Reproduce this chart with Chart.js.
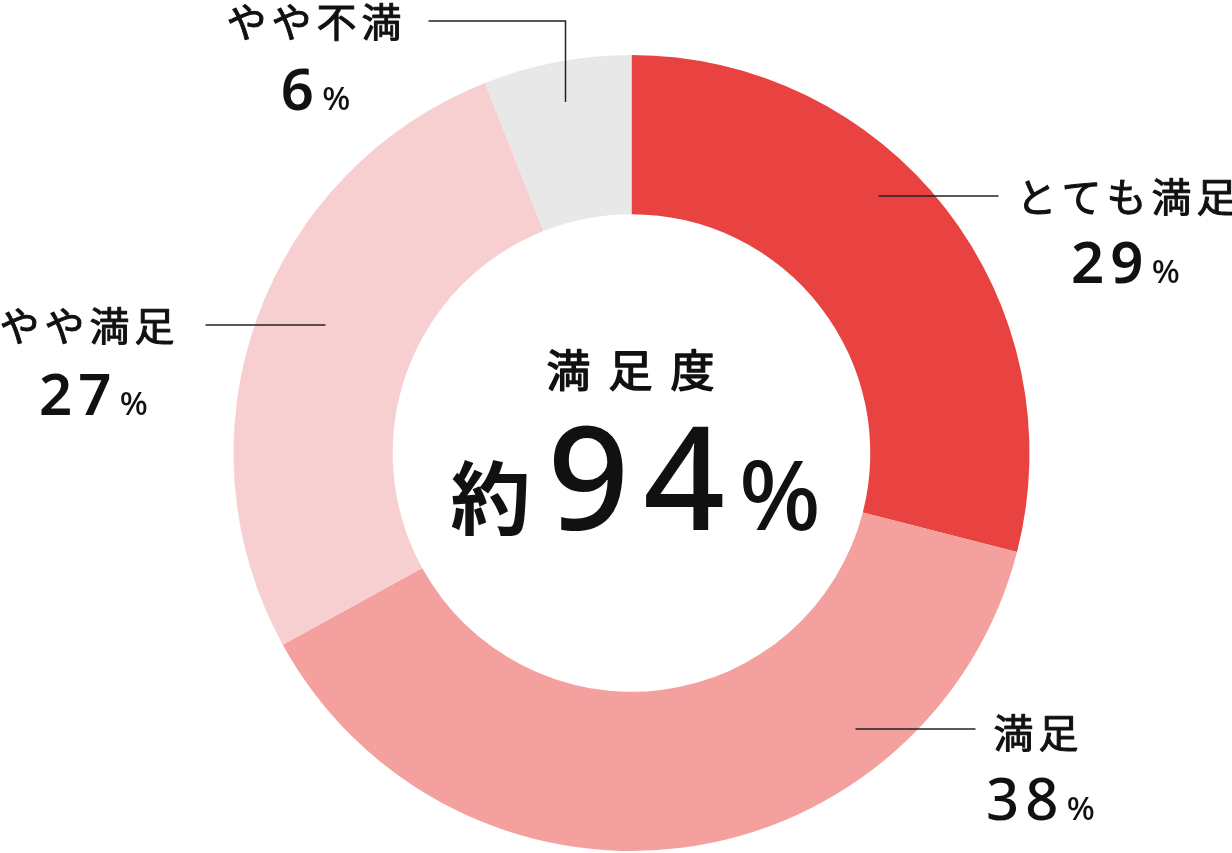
<!DOCTYPE html>
<html lang="ja">
<head>
<meta charset="utf-8">
<script src="https://cdn.jsdelivr.net/npm/chart.js@4"></script>
<style>
  html, body { margin: 0; padding: 0; background: #fff; }
  #wrap { width: 1232px; height: 853px; position: relative; }
</style>
</head>
<body>
<div id="wrap"><canvas id="c"></canvas></div>
<script>
// ---- data ----
const categories = ['とても満足', '満足', 'やや満足', 'やや不満'];
const values = [29, 38, 27, 6];
const centerTitle = '満足度';
const centerPrefix = '約';
const centerValue = '94';
const unit = '%';

// ---- styles ----
const segmentColors = ['#E84341', '#F3A09E', '#F8CFD0', '#E8E8E8'];
const valueWeights = [600, 500, 600, 600];
const JP = '"Noto Sans CJK JP", "Noto Sans", sans-serif';
const NUM = '"Noto Sans", "DejaVu Sans", sans-serif';

// label layout, offsets relative to the doughnut centre (px)
const labelLayout = [
  { text: [385, -256], num: [494, -170], line: [[247, -257], [367, -257]] },
  { text: [362, 280],  num: [409, 367],  line: [[224, 276], [344, 276]] },
  { text: [-632, -127], num: [-538, -38], line: [[-426, -128], [-306, -128]] },
  { text: [-405, -431], num: [-316, -343], line: [[-203, -432], [-66, -432], [-66, -351]] }
];

// medium-weight text: regular glyphs plus a thin outline
function mediumText(ctx, txt, x, y, stroke) {
  ctx.fillText(txt, x, y);
  ctx.save();
  ctx.lineWidth = stroke;
  ctx.strokeStyle = ctx.fillStyle;
  ctx.lineJoin = 'round';
  ctx.strokeText(txt, x, y);
  ctx.restore();
}

function drawNumWithUnit(ctx, cxText, baseline, num, numSize, unitSize, weight) {
  ctx.save();
  ctx.textBaseline = 'alphabetic';
  ctx.textAlign = 'left';
  ctx.font = `${weight} ${numSize}px ${NUM}`;
  ctx.letterSpacing = Math.round(numSize * 0.1) + 'px';
  const wn = ctx.measureText(num).width;
  ctx.font = `500 ${unitSize}px ${NUM}`;
  ctx.letterSpacing = '0px';
  const wu = ctx.measureText(unit).width;
  const gap = numSize * 0.04;
  let x = cxText - (wn + gap + wu) / 2;
  ctx.font = `${weight} ${numSize}px ${NUM}`;
  ctx.letterSpacing = Math.round(numSize * 0.1) + 'px';
  ctx.fillText(num, x, baseline);
  ctx.font = `500 ${unitSize}px ${NUM}`;
  ctx.letterSpacing = '0px';
  ctx.fillText(unit, x + wn + gap, baseline);
  ctx.restore();
}

const labelPlugin = {
  id: 'labels',
  afterDraw(chart) {
    const ctx = chart.ctx;
    const arc = chart.getDatasetMeta(0).data[0];
    const cx = arc.x, cy = arc.y;
    ctx.save();
    ctx.fillStyle = '#111';
    ctx.strokeStyle = '#222';
    ctx.lineWidth = 1.5;
    categories.forEach((name, i) => {
      const L = labelLayout[i];
      // leader line
      ctx.beginPath();
      L.line.forEach((p, k) => {
        const x = cx + p[0], y = cy + p[1];
        if (k === 0) ctx.moveTo(x, y); else ctx.lineTo(x, y);
      });
      ctx.stroke();
      // category
      ctx.font = `400 40px ${JP}`;
      ctx.letterSpacing = '5px';
      ctx.textAlign = 'left';
      ctx.textBaseline = 'middle';
      mediumText(ctx, name, cx + L.text[0], cy + L.text[1], 1.0);
      ctx.letterSpacing = '0px';
      // value
      drawNumWithUnit(ctx, cx + L.num[0], cy + L.num[1], String(values[i]), 58, 33, valueWeights[i]);
    });
    // centre
    ctx.font = `400 44px ${JP}`;
    ctx.letterSpacing = '18px';
    ctx.textAlign = 'center';
    ctx.textBaseline = 'middle';
    mediumText(ctx, centerTitle, cx + 8, cy - 83, 1.5);
    ctx.letterSpacing = '0px';
    ctx.font = `700 80px ${JP}`;
    ctx.fillText(centerPrefix, cx - 141, cy + 45);
    ctx.textAlign = 'left';
    ctx.textBaseline = 'alphabetic';
    ctx.font = `500 143px ${NUM}`;
    ctx.letterSpacing = '14px';
    ctx.fillText(centerValue, cx - 84, cy + 77);
    const w94 = ctx.measureText(centerValue).width;
    ctx.letterSpacing = '0px';
    ctx.font = `500 96px ${NUM}`;
    ctx.fillText(unit, cx - 84 + w94, cy + 77);
    ctx.restore();
  }
};

new Chart(document.getElementById('c'), {
  type: 'doughnut',
  data: {
    labels: categories,
    datasets: [{
      data: values,
      backgroundColor: segmentColors,
      borderWidth: 0,
      hoverOffset: 0
    }]
  },
  options: {
    responsive: true,
    maintainAspectRatio: false,
    animation: false,
    cutout: '60%',
    rotation: 0,
    layout: { padding: { left: 233.5, right: 202.5, top: 55, bottom: 2 } },
    plugins: { legend: { display: false }, tooltip: { enabled: false } },
    events: []
  },
  plugins: [labelPlugin]
});
</script>
</body>
</html>
